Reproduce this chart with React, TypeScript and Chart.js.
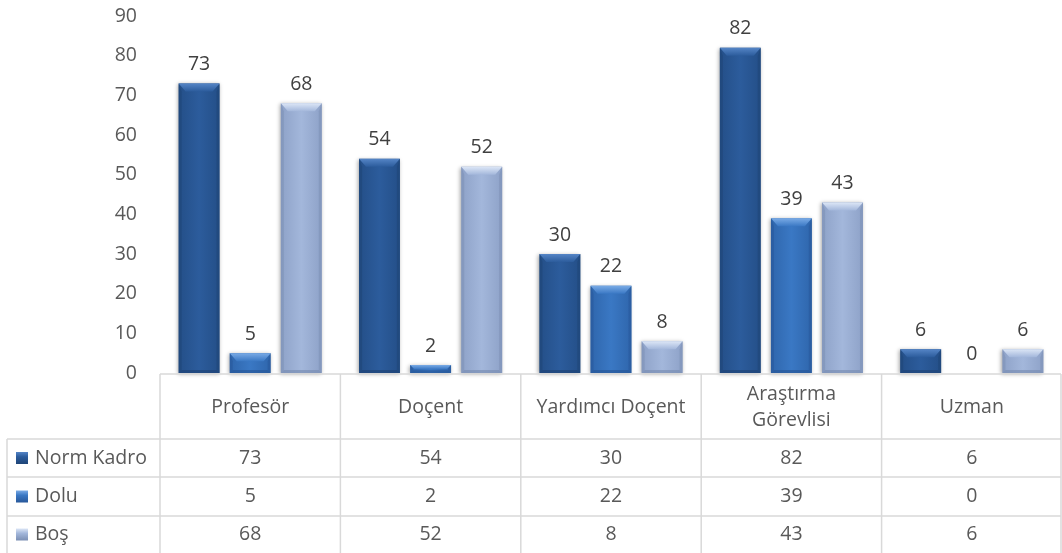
import React, { useEffect, useRef } from "react";
import { Chart, registerables } from "chart.js";

Chart.register(...registerables);

const categories = ["Profesör", "Doçent", "Yardımcı Doçent", "Araştırma Görevlisi", "Uzman"];
const categoryLines = [["Profesör"], ["Doçent"], ["Yardımcı Doçent"], ["Araştırma", "Görevlisi"], ["Uzman"]];
const seriesNames = ["Norm Kadro", "Dolu", "Boş"];
const normKadro = [73, 54, 30, 82, 6];
const dolu = [5, 2, 22, 39, 0];
const bos = [68, 52, 8, 43, 6];
const yTicks = [0, 10, 20, 30, 40, 50, 60, 70, 80, 90];

const FONT = "'Open Sans', sans-serif";
const FS = 19.5;
const TEXT = "#595959";
const LINE = "#D9D9D9";

const palette = [
  { base: "#2C5C9C", light: "#5585C6", dark: "#1F4577", edge: "#244F88" },
  { base: "#3A78C4", light: "#7AABE6", dark: "#28589A", edge: "#2F66AC" },
  { base: "#A3B7DB", light: "#DCE6F6", dark: "#7B8FB4", edge: "#8EA2C8" },
];

const bevelPlugin = {
  id: "bevel",
  afterDatasetsDraw(chart: any) {
    const ctx = chart.ctx;
    chart.data.datasets.forEach((ds: any, di: number) => {
      const meta = chart.getDatasetMeta(di);
      const c = palette[di];
      meta.data.forEach((el: any) => {
        const p = el.getProps(["x", "y", "base", "width"], true);
        const l = p.x - p.width / 2;
        const r = p.x + p.width / 2;
        const t = Math.min(p.y, p.base);
        const b = Math.max(p.y, p.base);
        const h = b - t;
        if (h < 0.5) return;
        ctx.save();
        ctx.shadowColor = "rgba(0,0,0,0.35)";
        ctx.shadowBlur = 4;
        ctx.shadowOffsetX = -1;
        ctx.shadowOffsetY = 1;
        const g = ctx.createLinearGradient(l, 0, r, 0);
        g.addColorStop(0, c.edge);
        g.addColorStop(0.5, c.base);
        g.addColorStop(1, c.edge);
        ctx.fillStyle = g;
        ctx.fillRect(l, t, r - l, h);
        ctx.shadowColor = "transparent";
        const bh = Math.min(8, h / 2);
        const bi = Math.min(7, bh);
        const tg = ctx.createLinearGradient(0, t, 0, t + bh);
        tg.addColorStop(0, c.light);
        tg.addColorStop(1, c.base);
        ctx.fillStyle = tg;
        ctx.beginPath();
        ctx.moveTo(l, t);
        ctx.lineTo(r, t);
        ctx.lineTo(r - bi, t + bh);
        ctx.lineTo(l + bi, t + bh);
        ctx.closePath();
        ctx.fill();
        ctx.fillStyle = c.dark;
        ctx.globalAlpha = 0.55;
        ctx.beginPath();
        ctx.moveTo(l, t);
        ctx.lineTo(l + 3, t + bh);
        ctx.lineTo(l + 3, b - Math.min(3, h / 3));
        ctx.lineTo(l, b);
        ctx.closePath();
        ctx.fill();
        ctx.beginPath();
        ctx.moveTo(r, t);
        ctx.lineTo(r - 3, t + bh);
        ctx.lineTo(r - 3, b - Math.min(3, h / 3));
        ctx.lineTo(r, b);
        ctx.closePath();
        ctx.fill();
        ctx.globalAlpha = 0.7;
        const bb = Math.min(3, h / 3);
        ctx.beginPath();
        ctx.moveTo(l, b);
        ctx.lineTo(r, b);
        ctx.lineTo(r - 3, b - bb);
        ctx.lineTo(l + 3, b - bb);
        ctx.closePath();
        ctx.fill();
        ctx.restore();
      });
    });
    ctx.save();
    ctx.font = `${FS}px ${FONT}`;
    ctx.fillStyle = "#404040";
    ctx.textAlign = "center";
    ctx.textBaseline = "middle";
    chart.data.datasets.forEach((ds: any, di: number) => {
      const meta = chart.getDatasetMeta(di);
      meta.data.forEach((el: any, i: number) => {
        const p = el.getProps(["x", "y"], true);
        ctx.fillText(String(ds.data[i]), p.x, p.y - 19);
      });
    });
    ctx.restore();
  },
};

const tablePlugin = {
  id: "dataTable",
  afterDraw(chart: any) {
    const ctx = chart.ctx;
    const area = chart.chartArea;
    const x = chart.scales.x;
    const n = categories.length;
    const catW = (area.right - area.left) / n;
    const top = 374;
    const rowTops = [439, 477, 516];
    const bottom = 553;
    const leftX = 7;
    const rightX = area.right - 1;
    ctx.save();
    ctx.strokeStyle = LINE;
    ctx.lineWidth = 1.5;
    ctx.beginPath();
    ctx.moveTo(area.left, top);
    ctx.lineTo(rightX, top);
    rowTops.forEach((y) => {
      ctx.moveTo(leftX, y);
      ctx.lineTo(rightX, y);
    });
    for (let i = 0; i <= n; i++) {
      const vx = i === n ? rightX : area.left + i * catW;
      ctx.moveTo(vx, top);
      ctx.lineTo(vx, bottom);
    }
    ctx.moveTo(leftX, rowTops[0]);
    ctx.lineTo(leftX, bottom);
    ctx.stroke();

    ctx.font = `${FS}px ${FONT}`;
    ctx.fillStyle = TEXT;
    ctx.textAlign = "center";
    ctx.textBaseline = "middle";
    categoryLines.forEach((lines, i) => {
      const cx = x.getPixelForValue(i);
      const mid = (top + rowTops[0]) / 2 + 1;
      const lh = 26;
      lines.forEach((ln, k) => {
        ctx.fillText(ln, cx, mid + (k - (lines.length - 1) / 2) * lh);
      });
    });
    const rows = [normKadro, dolu, bos];
    const rowBottoms = [rowTops[1], rowTops[2], bottom];
    rows.forEach((vals, r) => {
      const cy = (rowTops[r] + rowBottoms[r]) / 2;
      vals.forEach((v, i) => {
        ctx.textAlign = "center";
        ctx.fillStyle = TEXT;
        ctx.fillText(String(v), x.getPixelForValue(i), cy);
      });
      const c = palette[r];
      const g = ctx.createLinearGradient(0, cy - 6, 0, cy + 6);
      g.addColorStop(0, c.light);
      g.addColorStop(0.4, c.base);
      g.addColorStop(1, c.dark);
      ctx.fillStyle = g;
      ctx.fillRect(16, cy - 6, 12, 12);
      ctx.fillStyle = TEXT;
      ctx.textAlign = "left";
      ctx.fillText(seriesNames[r], 35, cy);
    });
    ctx.restore();
  },
};

export default function App() {
  const ref = useRef<HTMLCanvasElement | null>(null);
  useEffect(() => {
    if (!ref.current) return;
    const chart = new Chart(ref.current, {
      type: "bar",
      data: {
        labels: categories,
        datasets: [normKadro, dolu, bos].map((d, i) => ({
          label: seriesNames[i],
          data: d,
          backgroundColor: "rgba(0,0,0,0)",
          borderWidth: 0,
          categoryPercentage: 0.85,
          barPercentage: 0.8,
        })),
      },
      options: {
        animation: false,
        responsive: true,
        maintainAspectRatio: false,
        layout: { padding: { left: 0, right: 0, top: 16, bottom: 180 } },
        plugins: { legend: { display: false }, tooltip: { enabled: false } },
        scales: {
          x: { display: false },
          y: {
            min: 0,
            max: 90,
            afterFit: (s: any) => {
              s.width = 160;
              s.paddingTop = 0;
            },
            afterBuildTicks: (s: any) => {
              s.ticks = yTicks.map((v) => ({ value: v }));
            },
            grid: { display: false, drawTicks: false },
            border: { display: false },
            ticks: {
              padding: 23,
              color: TEXT,
              font: { family: FONT, size: FS },
            },
          },
        },
      },
      plugins: [bevelPlugin, tablePlugin],
    });
    return () => chart.destroy();
  }, []);
  return (
    <div style={{ position: "absolute", left: 0, top: 0, width: 1062, height: 553 }}>
      <canvas ref={ref} />
    </div>
  );
}
